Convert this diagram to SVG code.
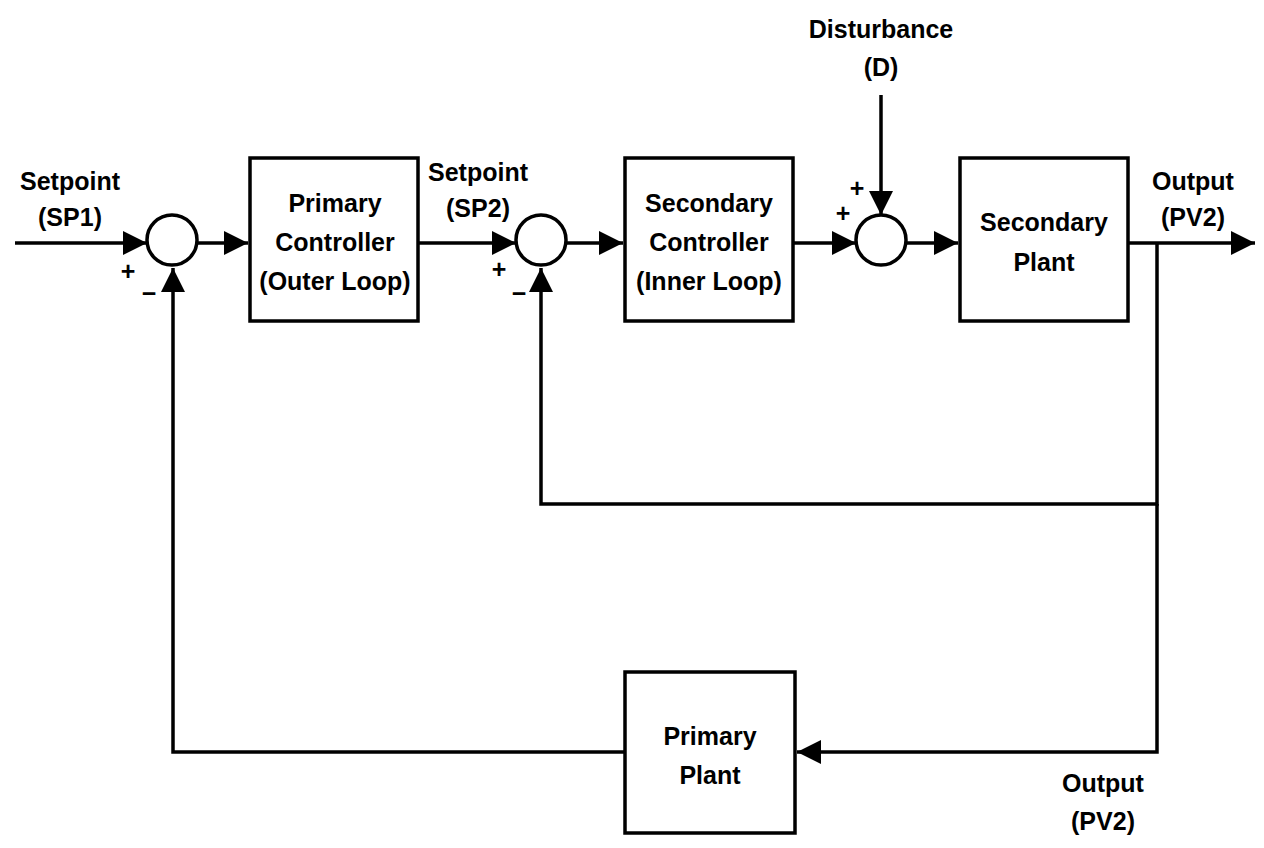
<svg xmlns="http://www.w3.org/2000/svg" width="1264" height="848" viewBox="0 0 1264 848">
<style>
.b{fill:#fff;stroke:#000;stroke-width:3.5}
.l{fill:none;stroke:#000;stroke-width:3.5}
text{font-family:"Liberation Sans",Arial,sans-serif;font-weight:bold;font-size:25px;fill:#000;text-anchor:middle}
</style>
<defs><marker id="a" markerWidth="8" markerHeight="8" refX="7" refY="4" orient="auto" markerUnits="userSpaceOnUse" viewBox="0 0 8 8"><path d="M0,0L8,4L0,8z"/></marker>
<marker id="A" viewBox="0 0 10 10" refX="10" refY="5" markerWidth="24" markerHeight="24" markerUnits="userSpaceOnUse" orient="auto"><path d="M0,0L10,5L0,10z"/></marker></defs>
<g id="connectors">
<path class="l" d="M15,243H147" marker-end="url(#A)"/>
<path class="l" d="M197,243H248" marker-end="url(#A)"/>
<path class="l" d="M418,243H516" marker-end="url(#A)"/>
<path class="l" d="M566,243H623" marker-end="url(#A)"/>
<path class="l" d="M793,243H856" marker-end="url(#A)"/>
<path class="l" d="M906,243H958" marker-end="url(#A)"/>
<path class="l" d="M1128,243H1255" marker-end="url(#A)"/>
<path class="l" d="M881,95V215" marker-end="url(#A)"/>
<path class="l" d="M1157,243V504H541V268" marker-end="url(#A)"/>
<path class="l" d="M1157,504V752H797" marker-end="url(#A)"/>
<path class="l" d="M625,752H173V268" marker-end="url(#A)"/>
</g>
<g id="sum1"><circle class="b" cx="172" cy="240" r="25"/><text x="128" y="280">+</text><text x="149" y="302">−</text></g>
<g id="sum2"><circle class="b" cx="541" cy="240" r="25"/><text x="499" y="278">+</text><text x="519" y="302">−</text></g>
<g id="sum3"><circle class="b" cx="881" cy="240" r="25"/><text x="857" y="197">+</text><text x="843" y="222">+</text></g>
<g id="primaryController"><rect class="b" x="250" y="158" width="168" height="163"/><text x="335" y="212">Primary</text><text x="335" y="251">Controller</text><text x="335" y="290">(Outer Loop)</text></g>
<g id="secondaryController"><rect class="b" x="625" y="158" width="168" height="163"/><text x="709" y="212">Secondary</text><text x="709" y="251">Controller</text><text x="709" y="290">(Inner Loop)</text></g>
<g id="secondaryPlant"><rect class="b" x="960" y="158" width="168" height="163"/><text x="1044" y="231">Secondary</text><text x="1044" y="271">Plant</text></g>
<g id="primaryPlant"><rect class="b" x="625" y="672" width="170" height="161"/><text x="710" y="745">Primary</text><text x="710" y="784">Plant</text></g>
<g id="labels">
<text x="70" y="190">Setpoint</text><text x="70" y="226">(SP1)</text>
<text x="478" y="181">Setpoint</text><text x="478" y="217">(SP2)</text>
<text x="881" y="38">Disturbance</text><text x="881" y="76">(D)</text>
<text x="1193" y="190">Output</text><text x="1193" y="226">(PV2)</text>
<text x="1103" y="792">Output</text><text x="1103" y="830">(PV2)</text>
</g>
</svg>
